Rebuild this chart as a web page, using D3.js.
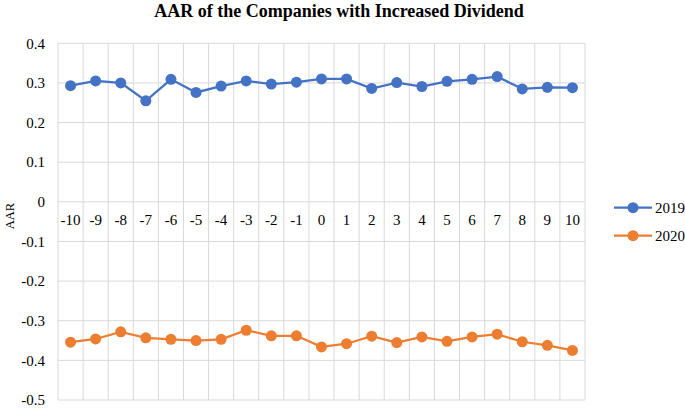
<!DOCTYPE html>
<html><head><meta charset="utf-8">
<script src="https://cdn.jsdelivr.net/npm/d3@7"></script>
<style>body{margin:0;background:#fff}svg{display:block}</style>
</head><body><svg id="c" width="685" height="410" font-family="'Liberation Serif', 'Times New Roman', serif"></svg>
<script>
const categories = ["-10","-9","-8","-7","-6","-5","-4","-3","-2","-1","0","1","2","3","4","5","6","7","8","9","10"];
const values2019 = [0.293,0.305,0.300,0.255,0.309,0.276,0.292,0.305,0.297,0.302,0.310,0.310,0.286,0.301,0.291,0.304,0.309,0.316,0.285,0.289,0.288];
const values2020 = [-0.354,-0.346,-0.328,-0.343,-0.347,-0.350,-0.347,-0.324,-0.338,-0.338,-0.366,-0.358,-0.339,-0.355,-0.341,-0.352,-0.341,-0.334,-0.353,-0.362,-0.375];
const yTicks = [0.4,0.3,0.2,0.1,0,-0.1,-0.2,-0.3,-0.4,-0.5];
const seriesNames = ["2019","2020"];
const colors = ["#4472C4","#ED7D31"];
const title = "AAR of the Companies with Increased Dividend";
const yLabel = "AAR";

const FF = "'Liberation Serif', 'Times New Roman', serif";
const svg = d3.select("#c");
const L = 58, R = 585, T = 43.3, B = 400;
const x = d3.scaleBand().domain(categories).range([L, R]);
const y = d3.scaleLinear().domain([-0.5, 0.4]).range([B, T]);

// gridlines
const g = svg.append("g");
g.selectAll(".hg").data(yTicks).join("line")
  .attr("x1", L).attr("x2", R).attr("y1", d => y(d)).attr("y2", d => y(d))
  .attr("stroke", "#d9d9d9").attr("stroke-width", 1);
const vb = categories.map(c => x(c)).concat([R]);
g.selectAll(".vg").data(vb).join("line")
  .attr("x1", d => d).attr("x2", d => d).attr("y1", T).attr("y2", B)
  .attr("stroke", "#d9d9d9").attr("stroke-width", 1);

// y axis labels
svg.append("g").selectAll("text").data(yTicks).join("text")
  .attr("font-family", FF)
  .attr("x", 45).attr("y", d => y(d)).attr("dy", "0.35em")
  .attr("text-anchor", "end").attr("font-size", 15)
  .text(d => String(+d.toFixed(1)));

// category labels at zero line
svg.append("g").selectAll("text").data(categories).join("text")
  .attr("font-family", FF)
  .attr("x", d => x(d) + x.bandwidth()/2).attr("y", y(0) + 18)
  .attr("dy", "0.35em").attr("text-anchor", "middle").attr("font-size", 15)
  .text(d => d);

const data = [values2019, values2020];
const line = d3.line().x((d,i) => x(categories[i]) + x.bandwidth()/2).y(d => y(d));
data.forEach((vals, k) => {
  svg.append("path").datum(vals).attr("d", line).attr("fill", "none")
    .attr("stroke", colors[k]).attr("stroke-width", 2.25);
  svg.append("g").selectAll("circle").data(vals).join("circle")
    .attr("cx", (d,i) => x(categories[i]) + x.bandwidth()/2).attr("cy", d => y(d))
    .attr("r", 5.5).attr("fill", colors[k]);
});

// title
svg.append("text").attr("font-family", FF).attr("x", 339).attr("y", 17).attr("text-anchor", "middle")
  .attr("font-size", 18).attr("font-weight", "bold").text(title);

// y label
svg.append("text").attr("font-family", FF).attr("transform", "translate(13.5,216) rotate(-90)")
  .attr("text-anchor", "middle").attr("font-size", 12.5).text(yLabel);

// legend
const ly = [207.7, 235.7];
seriesNames.forEach((n, k) => {
  const lg = svg.append("g");
  lg.append("line").attr("x1", 614).attr("x2", 652).attr("y1", ly[k]).attr("y2", ly[k])
    .attr("stroke", colors[k]).attr("stroke-width", 2.25);
  lg.append("circle").attr("cx", 633).attr("cy", ly[k]).attr("r", 5.5).attr("fill", colors[k]);
  lg.append("text").attr("font-family", FF).attr("x", 655).attr("y", ly[k]).attr("dy", "0.35em").attr("font-size", 15).text(n);
});
</script></body></html>
